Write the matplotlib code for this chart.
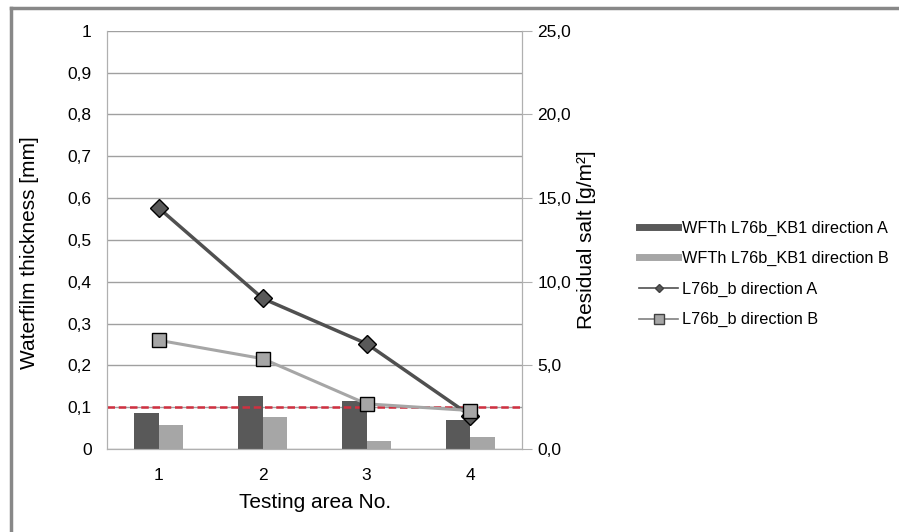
import matplotlib
matplotlib.use("Agg")
import matplotlib.pyplot as plt
import numpy as np
from matplotlib.lines import Line2D

plt.rcParams['font.family'] = ['Liberation Sans', 'DejaVu Sans']

areas = [1, 2, 3, 4]
wfth_a = [0.085, 0.127, 0.116, 0.069]
wfth_b = [0.057, 0.076, 0.020, 0.029]
salt_a = [14.4, 9.0, 6.3, 2.0]
salt_b = [6.5, 5.4, 2.7, 2.3]
limit = 0.1

left_ticks = np.arange(0, 1.01, 0.1)
left_labels = ['0', '0,1', '0,2', '0,3', '0,4', '0,5', '0,6', '0,7', '0,8', '0,9', '1']
right_ticks = [0, 5, 10, 15, 20, 25]
right_labels = ['0,0', '5,0', '10,0', '15,0', '20,0', '25,0']

fig = plt.figure(figsize=(8.99, 5.32), dpi=100)
ax = fig.add_axes([0.119, 0.156, 0.462, 0.786])
ax2 = ax.twinx()

X = np.arange(len(areas))
w = 0.236
b1 = ax.bar(X - w/2, wfth_a, width=w, color='#595959', zorder=2)
b2 = ax.bar(X + w/2, wfth_b, width=w, color='#a6a6a6', zorder=2)
ax.axhline(limit, color='#d03040', ls=(0, (3, 1.5)), lw=1.8, zorder=3)

l1, = ax2.plot(X, salt_a, color='#505050', lw=2.5, marker='D', ms=9,
               mfc='#595959', mec='black', mew=1)
l2, = ax2.plot(X, salt_b, color='#a6a6a6', lw=2.2, marker='s', ms=10,
               mfc='#a6a6a6', mec='black', mew=1)

ax.set_xlim(-0.5, 3.5)
ax.set_ylim(0, 1)
ax2.set_ylim(0, 25)
ax.set_yticks(left_ticks, labels=left_labels)
ax2.set_yticks(right_ticks, labels=right_labels)
ax.set_xticks(X, labels=[str(a) for a in areas])
ax.grid(axis='y', color='#a0a0a0', lw=1, zorder=0)
ax.set_axisbelow(True)

for a in (ax, ax2):
    for s in a.spines.values():
        s.set_color('#b0b0b0')
    a.spines['top'].set_visible(False)
ax.tick_params(axis='y', length=0, labelsize=12.5, pad=11)
ax.tick_params(axis='x', length=0, labelsize=12.5, pad=14)
ax2.tick_params(axis='y', length=7, color='#b0b0b0', labelsize=12.5, pad=4)

ax.set_xlabel("Testing area No.", fontsize=15, labelpad=7)
ax.set_ylabel("Waterfilm thickness [mm]", fontsize=15)
ax.yaxis.set_label_coords(-0.164, 0.47)
ax2.set_ylabel("Residual salt [g/m²]", fontsize=15, labelpad=4)

h_a = Line2D([], [], color='#595959', lw=5)
h_b = Line2D([], [], color='#a6a6a6', lw=5)
h_1 = Line2D([], [], color='#505050', lw=1.2, marker='D', ms=4, mfc='#595959', mec='#404040')
h_2 = Line2D([], [], color='#808080', lw=1.2, marker='s', ms=7, mfc='#a6a6a6', mec='#404040')
fig.legend([h_a, h_b, h_1, h_2],
           ["WFTh L76b_KB1 direction A", "WFTh L76b_KB1 direction B",
            "L76b_b direction A", "L76b_b direction B"],
           loc='center left', bbox_to_anchor=(0.695, 0.485), frameon=False,
           fontsize=11.7, handlelength=2.4, handletextpad=0.25, labelspacing=0.95)

# outer chart border (left and top only visible)
fig.add_artist(Line2D([11/899, 11/899], [0, 1 - 8/532], color='#888888', lw=2.5))
fig.add_artist(Line2D([11/899, 1], [1 - 8/532, 1 - 8/532], color='#888888', lw=2.5))

fig.savefig("out.png", dpi=100)
